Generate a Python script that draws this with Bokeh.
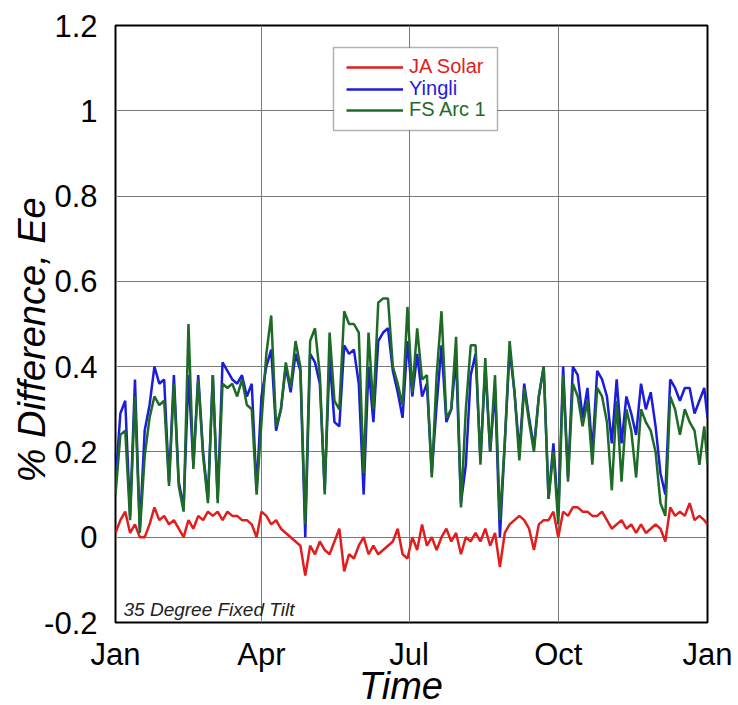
from bokeh.plotting import figure
from bokeh.models import FixedTicker, Legend, LegendItem, BoxAnnotation, Label
from bokeh.embed import file_html
from bokeh.resources import INLINE

# day of year (every 3 days, plus year end)
days = list(range(0, 364, 3)) + [365]

ja_solar = [
    0.01, 0.04, 0.06, 0.01, 0.03, 0.00, 0.00, 0.03, 0.07, 0.04, 0.05, 0.03,
    0.04, 0.02, 0.00, 0.04, 0.02, 0.05, 0.04, 0.06, 0.05, 0.06, 0.04, 0.06,
    0.05, 0.05, 0.04, 0.04, 0.03, 0.00, 0.06, 0.05, 0.03, 0.04, 0.02, 0.01,
    0.00, -0.01, -0.02, -0.09, -0.02, -0.04, -0.01, -0.03, -0.04, -0.01, 0.02, -0.08, -0.04,
    -0.05, -0.02, 0.00, -0.04, -0.02, -0.04, -0.03, -0.02, -0.01, 0.02, -0.04, -0.05,
    0.00, -0.03, 0.03, -0.02, 0.00, -0.03, 0.00, 0.02, -0.01, 0.01, -0.04, 0.00, -0.01,
    0.01, -0.01, 0.02, -0.02, 0.01, -0.07, 0.01, 0.03, 0.04, 0.05, 0.04, 0.02,
    -0.03, 0.03, 0.04, 0.04, 0.06, 0.00, 0.06, 0.05, 0.07, 0.07, 0.06, 0.06, 0.05,
    0.05, 0.06, 0.04, 0.02, 0.03, 0.04, 0.02, 0.03, 0.01, 0.03, 0.01, 0.02,
    0.03, 0.02, -0.01, 0.07, 0.05, 0.06, 0.05, 0.08, 0.04, 0.05, 0.04, 0.03,
]

yingli = [
    0.13, 0.29, 0.32, 0.05, 0.37, 0.02, 0.25, 0.31, 0.40, 0.36, 0.37, 0.13,
    0.38, 0.13, 0.07, 0.38, 0.17, 0.38, 0.20, 0.09, 0.38, 0.09, 0.41, 0.39,
    0.37, 0.36, 0.38, 0.33, 0.36, 0.11, 0.33, 0.40, 0.44, 0.25, 0.30, 0.40,
    0.34, 0.43, 0.39, 0.00, 0.43, 0.41, 0.36, 0.11, 0.42, 0.27, 0.26, 0.45, 0.43,
    0.44, 0.36, 0.10, 0.40, 0.27, 0.46, 0.48, 0.49, 0.39, 0.34, 0.28, 0.46,
    0.33, 0.43, 0.33, 0.36, 0.15, 0.31, 0.45, 0.27, 0.30, 0.42, 0.08, 0.17, 0.38,
    0.43, 0.18, 0.40, 0.20, 0.35, 0.00, 0.22, 0.44, 0.34, 0.20, 0.36, 0.28,
    0.21, 0.33, 0.40, 0.09, 0.22, 0.05, 0.40, 0.14, 0.40, 0.38, 0.28, 0.35, 0.20,
    0.39, 0.37, 0.33, 0.22, 0.37, 0.22, 0.33, 0.29, 0.24, 0.36, 0.30, 0.34,
    0.26, 0.15, 0.10, 0.37, 0.35, 0.32, 0.35, 0.35, 0.29, 0.32, 0.35, 0.28,
]

fs_arc_1 = [
    0.10, 0.24, 0.25, 0.04, 0.33, 0.01, 0.19, 0.28, 0.33, 0.31, 0.32, 0.12,
    0.36, 0.12, 0.06, 0.50, 0.16, 0.37, 0.19, 0.08, 0.38, 0.08, 0.36, 0.35,
    0.36, 0.33, 0.37, 0.31, 0.30, 0.10, 0.27, 0.43, 0.52, 0.26, 0.30, 0.41,
    0.35, 0.46, 0.40, 0.03, 0.46, 0.49, 0.38, 0.10, 0.48, 0.32, 0.30, 0.53, 0.50,
    0.50, 0.48, 0.15, 0.48, 0.30, 0.55, 0.56, 0.56, 0.40, 0.36, 0.31, 0.54,
    0.34, 0.49, 0.37, 0.38, 0.14, 0.38, 0.53, 0.28, 0.30, 0.47, 0.07, 0.30, 0.45,
    0.45, 0.17, 0.42, 0.20, 0.38, 0.04, 0.22, 0.46, 0.34, 0.18, 0.35, 0.27,
    0.20, 0.33, 0.40, 0.09, 0.20, 0.03, 0.38, 0.13, 0.36, 0.33, 0.26, 0.32, 0.17,
    0.35, 0.33, 0.27, 0.11, 0.32, 0.13, 0.30, 0.25, 0.14, 0.30, 0.27, 0.25,
    0.20, 0.08, 0.05, 0.33, 0.30, 0.24, 0.30, 0.27, 0.25, 0.17, 0.26, 0.17,
]

series_names = ["JA Solar", "Yingli", "FS Arc 1"]
series_colors = ["#e21d1d", "#1c1cdc", "#1e6b28"]

month_ticks = [0, 90, 181, 273, 365]
month_labels = ["Jan", "Apr", "Jul", "Oct", "Jan"]
y_ticks = [-0.2, 0, 0.2, 0.4, 0.6, 0.8, 1, 1.2]
y_labels = ["-0.2", "0", "0.2", "0.4", "0.6", "0.8", "1", "1.2"]

FONT = "Liberation Sans"
NB = "\u00a0"

p = figure(frame_width=592, frame_height=597, x_range=(0, 365), y_range=(-0.2, 1.2),
           output_backend="svg", toolbar_location=None,
           min_border_left=115, min_border_right=29,
           min_border_top=25, min_border_bottom=80)

p.background_fill_color = "white"
p.outline_line_color = "black"
p.outline_line_width = 2

# axes
p.xaxis.ticker = FixedTicker(ticks=month_ticks)
p.xaxis.major_label_overrides = {t: l for t, l in zip(month_ticks, month_labels)}
p.yaxis.ticker = FixedTicker(ticks=y_ticks)
p.yaxis.major_label_overrides = {t: l for t, l in zip(y_ticks, y_labels)}
for ax in (p.xaxis, p.yaxis):
    ax.axis_line_color = None
    ax.major_tick_line_color = None
    ax.minor_tick_line_color = None
    ax.major_label_text_font = FONT
    ax.major_label_text_font_size = "31px"
    ax.major_label_text_color = "black"
    ax.axis_label_text_font = FONT
    ax.axis_label_text_font_size = "38px"
    ax.axis_label_text_font_style = "italic"
    ax.axis_label_text_color = "black"
p.xaxis.major_label_standoff = 8
p.yaxis.major_label_standoff = 12
p.xaxis.axis_label_standoff = -10
p.yaxis.axis_label_standoff = -12
p.xaxis.axis_label = "Time" + NB * 2
p.yaxis.axis_label = "% Difference, Ee" + NB * 3

p.xgrid.ticker = FixedTicker(ticks=month_ticks)
p.ygrid.ticker = FixedTicker(ticks=y_ticks)
for g in (p.xgrid, p.ygrid):
    g.grid_line_color = "#7a7a7a"
    g.grid_line_width = 1

renderers = []
for vals, name, col in zip([ja_solar, yingli, fs_arc_1], series_names, series_colors):
    r = p.line(days, vals, line_color=col, line_width=2.5)
    renderers.append(r)

# legend box
box = BoxAnnotation(left=218, right=382, bottom=492, top=575,
                    left_units="screen", right_units="screen",
                    bottom_units="screen", top_units="screen",
                    fill_color="white", fill_alpha=1.0,
                    line_color="black", line_width=1.5)
p.add_layout(box)

row_bottoms = [544, 522, 501]
for r, name, col, yb in zip(renderers, series_names, series_colors, row_bottoms):
    lg = Legend(items=[LegendItem(label=name, renderers=[r])],
                location=(231, yb), margin=0, padding=0,
                glyph_width=57, glyph_height=20, label_height=20,
                label_standoff=6, label_text_font=FONT,
                label_text_font_size="20px", label_text_color=col,
                border_line_color=None, background_fill_alpha=0)
    p.add_layout(lg)

note = Label(x=8, y=3, x_units="screen", y_units="screen",
             text="35 Degree Fixed Tilt", text_font=FONT,
             text_font_size="19px", text_font_style="italic",
             text_color="#222222", text_baseline="bottom")
p.add_layout(note)

open("out.html", "w").write(file_html(p, INLINE))
